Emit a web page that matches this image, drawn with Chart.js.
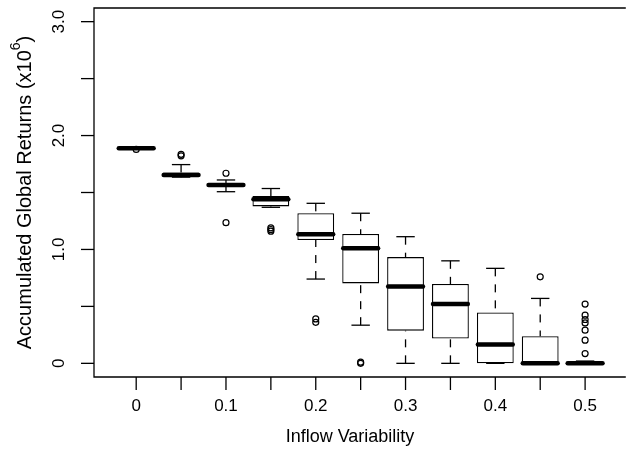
<!DOCTYPE html>
<html>
<head>
<meta charset="utf-8">
<script src="https://cdn.jsdelivr.net/npm/chart.js@4/dist/chart.umd.min.js"></script>
<style>
html, body { margin: 0; padding: 0; background: #fff; }
canvas { display: block; }
</style>
</head>
<body>
<canvas id="boxChart" width="629" height="450"></canvas>
<script>
// one box per inflow variability level
const variability = [0, 0.05, 0.1, 0.15, 0.2, 0.25, 0.3, 0.35, 0.4, 0.45, 0.5];
const xTickLabels = ['0', '', '0.1', '', '0.2', '', '0.3', '', '0.4', '', '0.5'];
const yTickValues = [0, 0.5, 1, 1.5, 2, 2.5, 3];
const yTickLabels = ['0', '', '1.0', '', '2.0', '', '3.0'];

// box statistics, in millions
const lowerWhisker  = [1.883, 1.635, 1.507, 1.370, 0.740, 0.335, 0, 0, 0, 0, 0];
const lowerQuartile = [1.885, 1.638, 1.553, 1.378, 1.083, 0.702, 0.287, 0.218, 0, 0, 0];
const medians       = [1.889, 1.654, 1.566, 1.440, 1.133, 1.010, 0.674, 0.520, 0.165, 0, 0];
const upperQuartile = [1.893, 1.676, 1.577, 1.470, 1.318, 1.135, 0.933, 0.696, 0.447, 0.238, 0.008];
const upperWhisker  = [1.897, 1.745, 1.610, 1.535, 1.405, 1.318, 1.112, 0.900, 0.834, 0.570, 0.020];
const outliers = [
    [1.878],
    [1.822, 1.835],
    [1.669, 1.235],
    [1.190, 1.175, 1.160],
    [0.390, 0.360],
    [0, 0.010],
    [],
    [],
    [],
    [0.760],
    [0.520, 0.423, 0.385, 0.355, 0.291, 0.203, 0.086]
];

const FONT = "'Liberation Sans', Arial, Helvetica, sans-serif";

// whiskers, staples and medians on top of the boxes
const boxExtras = {
    id: 'boxExtras',
    afterDatasetsDraw(chart) {
        const ctx = chart.ctx;
        const xs = chart.scales.x, ys = chart.scales.y;
        const bars = chart.getDatasetMeta(0).data;
        ctx.save();
        ctx.strokeStyle = '#000';
        variability.forEach((v, i) => {
            const px = xs.getPixelForValue(i);
            const half = bars[i].width / 2;
            ctx.lineWidth = 1.3;
            ctx.lineCap = 'butt';
            ctx.setLineDash([8, 8]);
            [[upperWhisker[i], upperQuartile[i]], [lowerWhisker[i], lowerQuartile[i]]].forEach(([w, q]) => {
                ctx.beginPath();
                ctx.moveTo(px, ys.getPixelForValue(w));
                ctx.lineTo(px, ys.getPixelForValue(q));
                ctx.stroke();
            });
            ctx.setLineDash([]);
            [upperWhisker[i], lowerWhisker[i]].forEach(w => {
                const py = ys.getPixelForValue(w);
                ctx.beginPath();
                ctx.moveTo(px - half / 2, py);
                ctx.lineTo(px + half / 2, py);
                ctx.stroke();
            });
            ctx.lineWidth = 4.5;
            ctx.lineCap = 'round';
            const pm = ys.getPixelForValue(medians[i]);
            ctx.beginPath();
            ctx.moveTo(px - half + 1, pm);
            ctx.lineTo(px + half - 1, pm);
            ctx.stroke();
        });
        ctx.restore();
    },
    // R style frame, ticks and labels
    afterDraw(chart) {
        const ctx = chart.ctx;
        const a = chart.chartArea;
        const xs = chart.scales.x, ys = chart.scales.y;
        ctx.save();
        ctx.strokeStyle = '#000';
        ctx.fillStyle = '#000';
        ctx.lineWidth = 1.3;
        ctx.beginPath();
        ctx.moveTo(a.right + 2, a.top);
        ctx.lineTo(a.left, a.top);
        ctx.lineTo(a.left, a.bottom);
        ctx.lineTo(a.right + 2, a.bottom);
        ctx.stroke();

        ctx.font = '17px ' + FONT;
        ctx.textAlign = 'center';
        ctx.textBaseline = 'middle';
        yTickValues.forEach((v, k) => {
            const py = ys.getPixelForValue(v);
            ctx.beginPath();
            ctx.moveTo(a.left - 13, py);
            ctx.lineTo(a.left, py);
            ctx.stroke();
            if (yTickLabels[k]) {
                ctx.save();
                ctx.translate(59, py);
                ctx.rotate(-Math.PI / 2);
                ctx.fillText(yTickLabels[k], 0, 0);
                ctx.restore();
            }
        });
        variability.forEach((v, i) => {
            const px = xs.getPixelForValue(i);
            ctx.beginPath();
            ctx.moveTo(px, a.bottom);
            ctx.lineTo(px, a.bottom + 13);
            ctx.stroke();
            if (xTickLabels[i]) ctx.fillText(xTickLabels[i], px, 406);
        });

        ctx.font = '18px ' + FONT;
        ctx.fillText('Inflow Variability', 350, 437);

        // y title with superscript exponent
        const main = 'Accumulated Global Returns (x10';
        ctx.font = '20px ' + FONT;
        const w1 = ctx.measureText(main).width;
        const w3 = ctx.measureText(')').width;
        ctx.font = '14px ' + FONT;
        const w2 = ctx.measureText('6').width;
        const total = w1 + w2 + w3;
        ctx.save();
        ctx.translate(25, (a.top + a.bottom) / 2);
        ctx.rotate(-Math.PI / 2);
        ctx.textAlign = 'left';
        ctx.textBaseline = 'middle';
        const x0 = -total / 2;
        ctx.font = '20px ' + FONT;
        ctx.fillText(main, x0, 0);
        ctx.font = '14px ' + FONT;
        ctx.fillText('6', x0 + w1, -9);
        ctx.font = '20px ' + FONT;
        ctx.fillText(')', x0 + w1 + w2, 0);
        ctx.restore();
        ctx.restore();
    }
};

const boxData = variability.map((v, i) => ({ x: i, y: [lowerQuartile[i], upperQuartile[i]] }));
const outlierData = [];
outliers.forEach((list, i) => list.forEach(val => outlierData.push({ x: i, y: val })));

new Chart(document.getElementById('boxChart').getContext('2d'), {
    type: 'bar',
    data: {
        datasets: [{
            label: 'Boxes',
            data: boxData,
            backgroundColor: '#fff',
            borderColor: '#000',
            borderWidth: 1.3,
            borderSkipped: false,
            categoryPercentage: 1,
            barPercentage: 0.82
        }, {
            type: 'scatter',
            label: 'Outliers',
            data: outlierData,
            pointStyle: 'circle',
            pointRadius: 3,
            borderWidth: 1.2,
            borderColor: '#000',
            backgroundColor: 'rgba(0,0,0,0)'
        }]
    },
    options: {
        responsive: false,
        animation: false,
        events: [],
        layout: { padding: { left: 94, right: 0, top: 8, bottom: 73 } },
        plugins: { legend: { display: false }, tooltip: { enabled: false } },
        scales: {
            x: { type: 'linear', offset: false, min: -0.94, max: 10.862, display: false },
            y: { type: 'linear', min: -0.12, max: 3.12, display: false }
        }
    },
    plugins: [boxExtras]
});
</script>
</body>
</html>
